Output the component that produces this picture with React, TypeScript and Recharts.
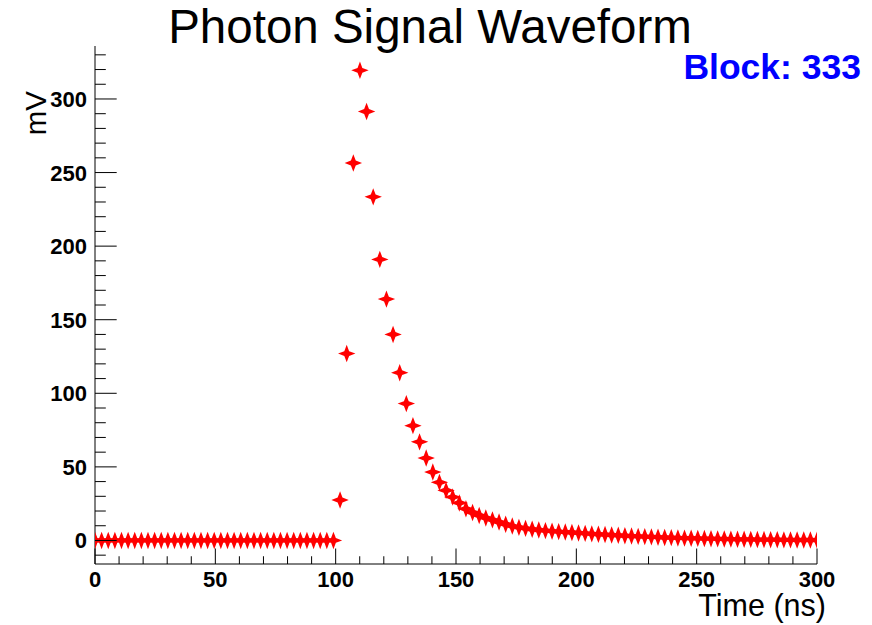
import React from 'react';
import { ScatterChart, Scatter, XAxis, YAxis } from 'recharts';

// sample times (ns) of the digitised waveform
const timeNs = [
  0, 2.75, 5.5, 8.26, 11.01, 13.76, 16.51, 19.27, 22.02, 24.77,
  27.52, 30.28, 33.03, 35.78, 38.53, 41.28, 44.04, 46.79, 49.54, 52.29,
  55.05, 57.8, 60.55, 63.3, 66.06, 68.81, 71.56, 74.31, 77.06, 79.82,
  82.57, 85.32, 88.07, 90.83, 93.58, 96.33, 99.08, 101.83, 104.59, 107.34,
  110.09, 112.84, 115.6, 118.35, 121.1, 123.85, 126.61, 129.36, 132.11, 134.86,
  137.61, 140.37, 143.12, 145.87, 148.62, 151.38, 154.13, 156.88, 159.63, 162.39,
  165.14, 167.89, 170.64, 173.39, 176.15, 178.9, 181.65, 184.4, 187.16, 189.91,
  192.66, 195.41, 198.17, 200.92, 203.67, 206.42, 209.17, 211.93, 214.68, 217.43,
  220.18, 222.94, 225.69, 228.44, 231.19, 233.94, 236.7, 239.45, 242.2, 244.95,
  247.71, 250.46, 253.21, 255.96, 258.72, 261.47, 264.22, 266.97, 269.72, 272.48,
  275.23, 277.98, 280.73, 283.49, 286.24, 288.99, 291.74, 294.5, 297.25, 300,
];

// amplitude (mV) at each sample
const signalMv = [
  0, 0, 0, 0, 0, 0, 0, 0, 0, 0,
  0, 0, 0, 0, 0, 0, 0, 0, 0, 0,
  0, 0, 0, 0, 0, 0, 0, 0, 0, 0,
  0, 0, 0, 0, 0, 0, 0, 27.5, 127, 256.5,
  319.5, 291.5, 233.5, 191, 164, 140, 114, 93, 78, 67,
  56, 46.5, 39.5, 34, 29.5, 25.5, 21.5, 19, 17, 15.3,
  14, 12.5, 11, 9.8, 8.9, 8.2, 7.6, 7.1, 6.7, 6.3,
  6.0, 5.7, 5.4, 5.1, 4.8, 4.5, 4.2, 4.0, 3.7, 3.5,
  3.2, 3.0, 2.8, 2.6, 2.4, 2.2, 2.0, 1.9, 1.7, 1.6,
  1.5, 1.4, 1.3, 1.2, 1.1, 1.0, 0.9, 0.8, 0.8, 0.7,
  0.6, 0.6, 0.5, 0.5, 0.4, 0.4, 0.3, 0.3, 0.3, 0.2,
];

const xTicks = [
  0, 10, 20, 30, 40, 50, 60, 70, 80, 90, 100, 110, 120, 130, 140, 150,
  160, 170, 180, 190, 200, 210, 220, 230, 240, 250, 260, 270, 280, 290, 300,
];
const xLabels = [0, 50, 100, 150, 200, 250, 300];
const yTicks = [
  -10, 0, 10, 20, 30, 40, 50, 60, 70, 80, 90, 100, 110, 120, 130, 140, 150, 160,
  170, 180, 190, 200, 210, 220, 230, 240, 250, 260, 270, 280, 290, 300, 310, 320, 330,
];
const yLabels = [0, 50, 100, 150, 200, 250, 300];

const data = timeNs.map((t, i) => ({ t, mv: signalMv[i] }));

const FONT = '"Liberation Sans", Arial, Helvetica, sans-serif';

const Star = (props: any) => {
  const { cx, cy } = props;
  if (cx == null || cy == null) return null;
  const r = 8.7;
  const w = 2.4;
  const d = `M${cx},${cy - r} L${cx + w},${cy - w} L${cx + r},${cy} L${cx + w},${cy + w} L${cx},${cy + r} L${cx - w},${cy + w} L${cx - r},${cy} L${cx - w},${cy - w} Z`;
  return <path d={d} fill="#ff0000" />;
};

const XTick = (props: any) => {
  const { x, y, payload } = props;
  const major = xLabels.includes(payload.value);
  return (
    <g>
      <line x1={x} x2={x} y1={y} y2={y - (major ? 15.5 : 7.75)} stroke="#000" />
      {major && (
        <text x={x} y={y + 23} textAnchor="middle" fontFamily={FONT} fontWeight="bold" fontSize={22} fill="#000">
          {payload.value}
        </text>
      )}
    </g>
  );
};

const YTick = (props: any) => {
  const { x, y, payload } = props;
  const major = yLabels.includes(payload.value);
  return (
    <g>
      <line x1={x} x2={x + (major ? 21.7 : 10.8)} y1={y} y2={y} stroke="#000" />
      {major && (
        <text x={x - 8} y={y + 8} textAnchor="end" fontFamily={FONT} fontWeight="bold" fontSize={22} fill="#000">
          {payload.value}
        </text>
      )}
    </g>
  );
};

export default function App() {
  return (
    <div style={{ position: 'absolute', left: 0, top: 0, background: '#fff' }}>
      <ScatterChart width={872} height={625} margin={{ top: 46, right: 55, bottom: 31, left: 35 }}>
        <XAxis
          type="number"
          dataKey="t"
          domain={[0, 300]}
          allowDataOverflow
          ticks={xTicks}
          interval={0}
          tickSize={0}
          tickMargin={0}
          tickLine={false}
          axisLine={{ stroke: '#000' }}
          tick={<XTick />}
          height={30}
        />
        <YAxis
          type="number"
          dataKey="mv"
          domain={[-16, 336]}
          allowDataOverflow
          ticks={yTicks}
          interval={0}
          tickSize={0}
          tickMargin={0}
          tickLine={false}
          axisLine={{ stroke: '#000' }}
          tick={<YTick />}
          width={60}
        />
        <XAxis
          xAxisId="top"
          orientation="top"
          type="number"
          domain={[0, 300]}
          height={0}
          tick={false}
          tickLine={false}
          axisLine={{ stroke: '#000' }}
        />
        <YAxis
          yAxisId="right"
          orientation="right"
          type="number"
          domain={[-16, 336]}
          width={0}
          tick={false}
          tickLine={false}
          axisLine={{ stroke: '#000' }}
        />
        <Scatter data={data} shape={<Star />} isAnimationActive={false} />
        <text x={430} y={43} textAnchor="middle" fontFamily={FONT} fontSize={47.5} fill="#000">
          Photon Signal Waveform
        </text>
        <text x={861} y={79} textAnchor="end" fontFamily={FONT} fontWeight="bold" fontSize={35.5} fill="#0000ff">
          Block: 333
        </text>
        <text x={46} y={91} transform="rotate(-90 46 91)" textAnchor="end" fontFamily={FONT} fontSize={29.5} fill="#000">
          mV
        </text>
        <text x={826} y={616} textAnchor="end" fontFamily={FONT} fontSize={30.5} fill="#000">
          Time (ns)
        </text>
      </ScatterChart>
    </div>
  );
}
